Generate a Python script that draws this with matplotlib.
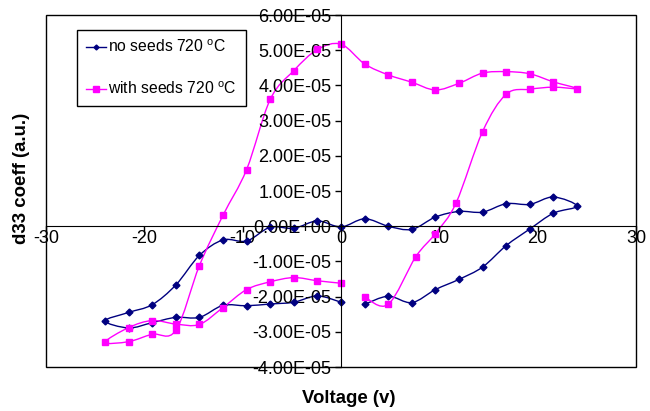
import numpy as np
import matplotlib
matplotlib.use("Agg")
import matplotlib.pyplot as plt
from matplotlib.path import Path
from matplotlib.patches import PathPatch, Rectangle
from matplotlib.lines import Line2D
from matplotlib.ticker import FuncFormatter

plt.rcParams['font.family'] = ['Liberation Sans', 'DejaVu Sans']
plt.rcParams['mathtext.fontset'] = 'custom'
plt.rcParams['mathtext.rm'] = 'Liberation Sans'
plt.rcParams['axes.unicode_minus'] = False

# no seeds 720 C (voltage sweep order)
blue_v = [2.4, 4.8, 7.2, 9.6, 12, 14.4, 16.8, 19.2, 21.6, 24,
          21.6, 19.2, 16.8, 14.4, 12, 9.6, 7.2, 4.8, 2.4, 0,
          -2.4, -4.8, -7.2, -9.6, -12, -14.4, -16.8, -19.2, -21.6, -24,
          -21.6, -19.2, -16.8, -14.4, -12, -9.6, -7.2, -4.8, -2.4, 0]
blue_d = [-2.22, -1.99, -2.17, -1.80, -1.51, -1.16, -0.55, -0.08, 0.37, 0.57,
          0.83, 0.62, 0.64, 0.40, 0.42, 0.26, -0.09, 0.00, 0.21, -0.02,
          0.15, -0.06, -0.03, -0.42, -0.39, -0.83, -1.67, -2.23, -2.45, -2.69,
          -2.89, -2.74, -2.59, -2.59, -2.25, -2.26, -2.21, -2.16, -1.98, -2.16]

# with seeds 720 C
mag_v = [2.4, 4.8, 7.6, 9.6, 11.7, 14.4, 16.8, 19.2, 21.6, 24,
         21.6, 19.2, 16.8, 14.4, 12, 9.6, 7.2, 4.8, 2.4, 0,
         -2.4, -4.8, -7.2, -9.6, -12, -14.4, -16.8, -19.2, -21.6, -24,
         -21.6, -19.2, -16.8, -14.4, -12, -9.6, -7.2, -4.8, -2.4, 0]
mag_d = [-2.01, -2.22, -0.87, -0.21, 0.66, 2.69, 3.75, 3.89, 3.95, 3.91,
         4.10, 4.33, 4.39, 4.35, 4.06, 3.87, 4.09, 4.30, 4.61, 5.17,
         5.02, 4.42, 3.60, 1.61, 0.31, -1.12, -2.96, -3.07, -3.28, -3.30,
         -2.88, -2.68, -2.78, -2.79, -2.31, -1.80, -1.58, -1.46, -1.55, -1.62]

labels = ['no seeds 720 $^{\\mathrm{o}}$C', 'with seeds 720 $^{\\mathrm{o}}$C']


def smooth_path(x, y):
    # excel-style smoothed line (bezier through the points)
    pts = np.column_stack([x, y])
    verts = [pts[0]]
    codes = [Path.MOVETO]
    n = len(pts)
    for i in range(n - 1):
        p0 = pts[i - 1] if i > 0 else pts[i]
        p1 = pts[i]
        p2 = pts[i + 1]
        p3 = pts[i + 2] if i + 2 < n else p2
        verts += [p1 + (p2 - p0) / 6, p2 - (p3 - p1) / 6, p2]
        codes += [Path.CURVE4] * 3
    return Path(verts, codes)


def main():
    fig = plt.figure(figsize=(6.5, 4.11), dpi=100)
    ax = fig.add_axes([46 / 650, 1 - 367 / 411, 590 / 650, 352 / 411])

    series = [
        (blue_v, blue_d, '#000080', 'D', 3.5),
        (mag_v, mag_d, '#FF00FF', 's', 5),
    ]
    handles = []
    for v, d, c, m, ms in series:
        d = np.array(d) * 1e-5
        ax.add_patch(PathPatch(smooth_path(v, d), fill=False, edgecolor=c, lw=1))
        ax.plot(v, d, ls='none', marker=m, ms=ms, color=c, mec=c)
        handles.append(Line2D([], [], color=c, lw=1, marker=m, ms=ms - 1, mec=c))

    ax.set_xlim(-30, 30)
    ax.set_ylim(-4e-5, 6e-5)
    ax.set_xticks([-30, -20, -10, 0, 10, 20, 30])
    ax.set_yticks(np.arange(-4, 7) * 1e-5)
    ax.yaxis.set_major_formatter(FuncFormatter(lambda val, pos: '%.2E' % val))

    ax.spines['left'].set_position(('data', 0))
    ax.spines['bottom'].set_position(('data', 0))
    ax.spines['top'].set_visible(False)
    ax.spines['right'].set_visible(False)
    ax.add_patch(Rectangle((0, 0), 1, 1, transform=ax.transAxes, fill=False,
                           edgecolor='black', lw=1, clip_on=False))
    ax.tick_params(direction='out', length=4, width=1, labelsize=13)
    ax.tick_params(axis='x', pad=-1.5)
    ax.tick_params(axis='y', pad=3)

    fig.text(349 / 650, 1 - 398 / 411, 'Voltage (v)', ha='center', va='center',
             fontsize=13.4, fontweight='bold')
    fig.text(22 / 650, 1 - 178 / 411, 'd33 coeff (a.u.)', ha='center', va='center',
             rotation=90, fontsize=13.4, fontweight='bold')

    leg = ax.legend(handles, labels, loc='upper left', bbox_to_anchor=(0.0525, 0.957),
                    borderaxespad=0, fancybox=False, edgecolor='black', framealpha=1,
                    fontsize=11.3, labelspacing=1.6, handlelength=1.3,
                    handletextpad=0.15, borderpad=0.55)
    leg.get_frame().set_linewidth(1)

    fig.savefig('out.png', dpi=100)


if __name__ == '__main__':
    main()
